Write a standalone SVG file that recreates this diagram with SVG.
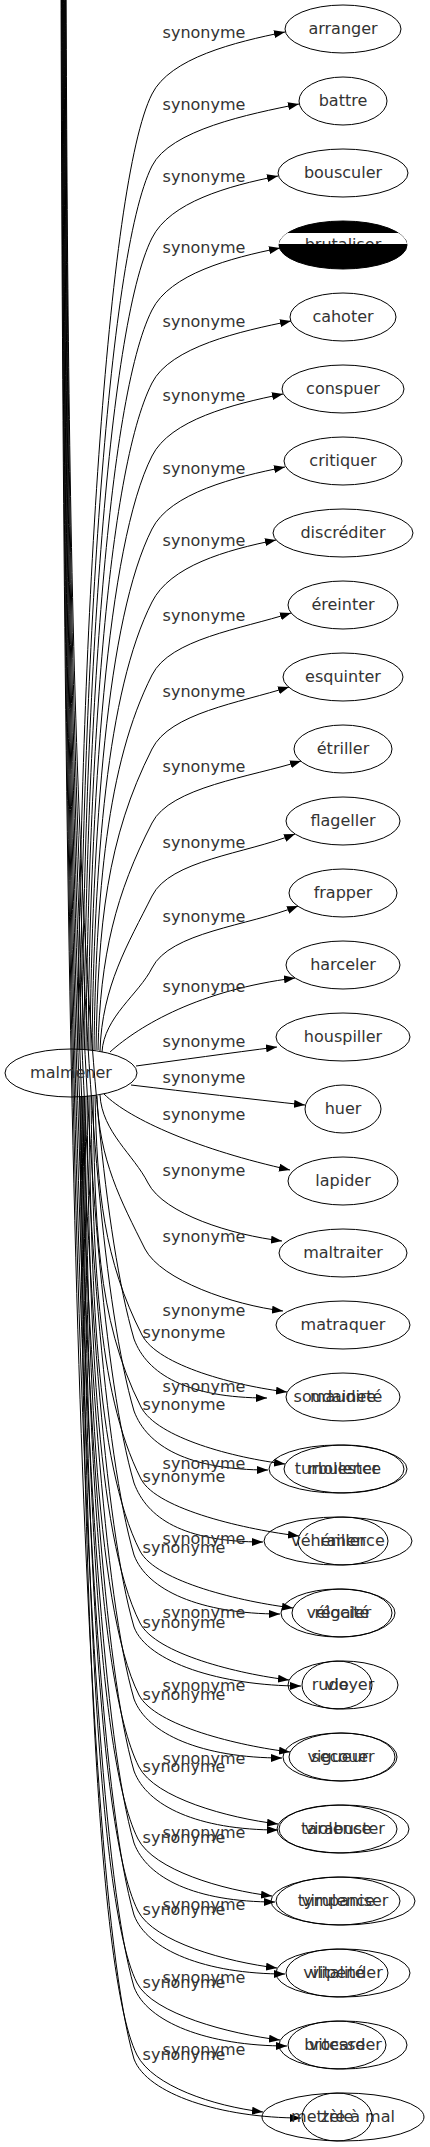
<svg xmlns="http://www.w3.org/2000/svg" width="430" height="2147" viewBox="0 0 430 2147">
<style>
.n{fill:none;stroke:#000;stroke-width:1}
.t{font-family:"DejaVu Sans",sans-serif;font-size:16px;fill:#333;text-anchor:middle}
.l{font-family:"DejaVu Sans",sans-serif;font-size:16px;fill:#333;text-anchor:middle}
.e path{fill:none;stroke:#000;stroke-width:1;marker-end:url(#a)}
</style>
<defs>
<marker id="a" viewBox="0 0 11 8" refX="11" refY="4" markerWidth="11" markerHeight="8" markerUnits="userSpaceOnUse" orient="auto"><path d="M0,0L11,4L0,8z" fill="#000"/></marker>
<clipPath id="cb"><ellipse cx="343" cy="245" rx="64" ry="24"/></clipPath>
<clipPath id="ct"><rect x="270" y="200" width="150" height="44"/></clipPath>
</defs>
<rect width="430" height="2147" fill="#fff"/>
<g id="connectors" class="e">
<path d="M78,1050 C80,648 107,183 152,94 C170,58 235,42 285,32"/>
<path d="M80,1050 C82,679 107,255 152,166 C170,130 249,114 299,104"/>
<path d="M82,1050 C84,709 107,327 152,238 C170,202 228,186 278,176"/>
<path d="M84,1050 C86,739 107,399 152,310 C170,274 230,258 280,248"/>
<path d="M86,1050 C88,770 107,472 152,383 C170,347 241,331 291,321"/>
<path d="M88,1050 C90,800 107,545 152,456 C170,420 233,404 283,394"/>
<path d="M90,1050 C92,831 107,618 152,529 C170,493 235,477 285,467"/>
<path d="M92,1050 C94,862 107,691 152,602 C170,566 226,550 276,540"/>
<path d="M94,1050 C96,892 107,764 152,675 C170,639 241,629 291,613"/>
<path d="M96,1050 C98,924 107,838 152,749 C170,713 239,703 289,687"/>
<path d="M98,1050 C100,955 116,893 152,823 C170,787 251,777 301,761"/>
<path d="M100,1051 C102,986 128,944 152,896 C170,860 245,854 295,834"/>
<path d="M102,1052 C104,1017 139,994 152,968 C170,932 248,926 298,906"/>
<path d="M110,1052 C140,1025 200,990 295,978"/>
<path d="M136,1066 C180,1060 230,1053 277,1047"/>
<path d="M131,1085 C190,1092 250,1099 305,1105"/>
<path d="M104,1094 C130,1120 200,1150 290,1170"/>
<path d="M100,1095 C102,1132 134,1155 148,1183 C164,1214 232,1235 282,1241"/>
<path d="M97,1096 C99,1160 121,1201 145,1249 C161,1280 233,1305 283,1311"/>
<path d="M95,1095 C97,1192 104,1260 142,1335 C158,1366 237,1386 287,1392"/>
<path d="M93,1095 C95,1220 96,1318 141,1407 C157,1438 235,1458 285,1464"/>
<path d="M91,1096 C93,1249 96,1390 141,1479 C157,1510 249,1530 299,1536"/>
<path d="M89,1096 C91,1278 95,1462 140,1551 C156,1582 243,1602 293,1608"/>
<path d="M87,1096 C89,1307 95,1534 140,1623 C156,1654 239,1674 289,1680"/>
<path d="M85,1096 C87,1336 94,1606 139,1695 C155,1726 240,1746 290,1752"/>
<path d="M84,1096 C86,1364 94,1678 139,1767 C155,1798 228,1818 278,1824"/>
<path d="M83,1096 C85,1393 93,1750 138,1839 C154,1870 222,1890 272,1896"/>
<path d="M82,1096 C84,1422 93,1822 138,1911 C154,1942 227,1962 277,1968"/>
<path d="M81,1096 C83,1451 92,1894 137,1983 C153,2014 230,2034 280,2040"/>
<path d="M80,1096 C82,1480 92,1966 137,2055 C153,2086 213,2106 263,2112"/>
<path d="M66,-30 C68,536 74,1132 134,1339 C147,1374 187,1398 267,1398"/>
<path d="M65.5,-30 C67.5,564 74,1204 134,1411 C147,1446 188,1470 268,1470"/>
<path d="M65,-30 C67,593 74,1276 134,1483 C147,1518 183,1542 263,1542"/>
<path d="M64.5,-30 C66.5,622 74,1348 134,1555 C147,1590 200,1614 280,1614"/>
<path d="M64,-30 C66,651 74,1420 134,1627 C147,1662 221,1686 301,1686"/>
<path d="M63.5,-30 C65.5,680 74,1492 134,1699 C147,1734 202,1758 282,1758"/>
<path d="M63,-30 C65,708 74,1564 134,1771 C147,1806 198,1830 278,1830"/>
<path d="M62.5,-30 C64.5,737 74,1636 134,1843 C147,1878 195,1902 275,1902"/>
<path d="M62,-30 C64,766 74,1708 134,1915 C147,1950 205,1974 285,1974"/>
<path d="M61.5,-30 C63.5,795 74,1780 134,1987 C147,2022 207,2046 287,2046"/>
<path d="M61,-30 C63,824 74,1852 134,2059 C147,2094 221,2118 301,2118"/>
</g>
<g id="edge-labels">
<text class="l" x="204" y="38">synonyme</text>
<text class="l" x="204" y="110">synonyme</text>
<text class="l" x="204" y="182">synonyme</text>
<text class="l" x="204" y="253">synonyme</text>
<text class="l" x="204" y="327">synonyme</text>
<text class="l" x="204" y="401">synonyme</text>
<text class="l" x="204" y="474">synonyme</text>
<text class="l" x="204" y="546">synonyme</text>
<text class="l" x="204" y="621">synonyme</text>
<text class="l" x="204" y="697">synonyme</text>
<text class="l" x="204" y="772">synonyme</text>
<text class="l" x="204" y="848">synonyme</text>
<text class="l" x="204" y="922">synonyme</text>
<text class="l" x="204" y="992">synonyme</text>
<text class="l" x="204" y="1047">synonyme</text>
<text class="l" x="204" y="1083">synonyme</text>
<text class="l" x="204" y="1120">synonyme</text>
<text class="l" x="204" y="1176">synonyme</text>
<text class="l" x="204" y="1242">synonyme</text>
<text class="l" x="204" y="1316">synonyme</text>
<text class="l" x="204" y="1392">synonyme</text>
<text class="l" x="204" y="1469">synonyme</text>
<text class="l" x="204" y="1544">synonyme</text>
<text class="l" x="204" y="1618">synonyme</text>
<text class="l" x="204" y="1691">synonyme</text>
<text class="l" x="204" y="1764">synonyme</text>
<text class="l" x="204" y="1838">synonyme</text>
<text class="l" x="204" y="1910">synonyme</text>
<text class="l" x="204" y="1983">synonyme</text>
<text class="l" x="204" y="2055">synonyme</text>
<text class="l" x="184" y="1338">synonyme</text>
<text class="l" x="184" y="1410">synonyme</text>
<text class="l" x="184" y="1482">synonyme</text>
<text class="l" x="184" y="1553">synonyme</text>
<text class="l" x="184" y="1628">synonyme</text>
<text class="l" x="184" y="1700">synonyme</text>
<text class="l" x="184" y="1772">synonyme</text>
<text class="l" x="184" y="1843">synonyme</text>
<text class="l" x="184" y="1915">synonyme</text>
<text class="l" x="184" y="1988">synonyme</text>
<text class="l" x="184" y="2060">synonyme</text>
</g>
<g id="malmener"><ellipse class="n" cx="71" cy="1073" rx="66" ry="24"/><text class="t" x="71" y="1078">malmener</text></g>
<g id="arranger"><ellipse class="n" cx="343" cy="29" rx="58" ry="24"/><text class="t" x="343" y="34">arranger</text></g>
<g id="battre"><ellipse class="n" cx="343" cy="101" rx="44" ry="24"/><text class="t" x="343" y="106">battre</text></g>
<g id="bousculer"><ellipse class="n" cx="343" cy="173" rx="65" ry="24"/><text class="t" x="343" y="178">bousculer</text></g>
<g id="brutaliser"><ellipse cx="343" cy="245" rx="64" ry="24" fill="#000" stroke="#000"/><rect x="279" y="233" width="128" height="11" fill="#fff" clip-path="url(#cb)"/><text class="t" x="343" y="250" clip-path="url(#ct)">brutaliser</text></g>
<g id="cahoter"><ellipse class="n" cx="343" cy="317" rx="53" ry="24"/><text class="t" x="343" y="322">cahoter</text></g>
<g id="conspuer"><ellipse class="n" cx="343" cy="389" rx="61" ry="24"/><text class="t" x="343" y="394">conspuer</text></g>
<g id="critiquer"><ellipse class="n" cx="343" cy="461" rx="59" ry="24"/><text class="t" x="343" y="466">critiquer</text></g>
<g id="discrediter"><ellipse class="n" cx="343" cy="533" rx="70" ry="24"/><text class="t" x="343" y="538">discréditer</text></g>
<g id="ereinter"><ellipse class="n" cx="343" cy="605" rx="55" ry="24"/><text class="t" x="343" y="610">éreinter</text></g>
<g id="esquinter"><ellipse class="n" cx="343" cy="677" rx="60" ry="24"/><text class="t" x="343" y="682">esquinter</text></g>
<g id="etriller"><ellipse class="n" cx="343" cy="749" rx="49" ry="24"/><text class="t" x="343" y="754">étriller</text></g>
<g id="flageller"><ellipse class="n" cx="343" cy="821" rx="57" ry="24"/><text class="t" x="343" y="826">flageller</text></g>
<g id="frapper"><ellipse class="n" cx="343" cy="893" rx="54" ry="24"/><text class="t" x="343" y="898">frapper</text></g>
<g id="harceler"><ellipse class="n" cx="343" cy="965" rx="57" ry="24"/><text class="t" x="343" y="970">harceler</text></g>
<g id="houspiller"><ellipse class="n" cx="343" cy="1037" rx="67" ry="24"/><text class="t" x="343" y="1042">houspiller</text></g>
<g id="huer"><ellipse class="n" cx="343" cy="1109" rx="38" ry="24"/><text class="t" x="343" y="1114">huer</text></g>
<g id="lapider"><ellipse class="n" cx="343" cy="1181" rx="55" ry="24"/><text class="t" x="343" y="1186">lapider</text></g>
<g id="maltraiter"><ellipse class="n" cx="343" cy="1253" rx="64" ry="24"/><text class="t" x="343" y="1258">maltraiter</text></g>
<g id="matraquer"><ellipse class="n" cx="343" cy="1325" rx="67" ry="24"/><text class="t" x="343" y="1330">matraquer</text></g>
<g id="maudire"><ellipse class="n" cx="343" cy="1397" rx="57" ry="24"/><text class="t" x="343" y="1402">maudire</text></g>
<g id="molester"><ellipse class="n" cx="344" cy="1469" rx="60" ry="24"/><text class="t" x="343" y="1474">molester</text></g>
<g id="railler"><ellipse class="n" cx="343" cy="1541" rx="45" ry="24"/><text class="t" x="343" y="1546">railler</text></g>
<g id="regaler"><ellipse class="n" cx="342" cy="1613" rx="50" ry="24"/><text class="t" x="343" y="1618">régaler</text></g>
<g id="rudoyer"><ellipse class="n" cx="343" cy="1685" rx="55" ry="24"/><text class="t" x="343" y="1690">rudoyer</text></g>
<g id="secouer"><ellipse class="n" cx="342" cy="1757" rx="53" ry="24"/><text class="t" x="343" y="1762">secouer</text></g>
<g id="tarabuster"><ellipse class="n" cx="343" cy="1829" rx="66" ry="24"/><text class="t" x="343" y="1834">tarabuster</text></g>
<g id="tympaniser"><ellipse class="n" cx="343" cy="1901" rx="72" ry="24"/><text class="t" x="343" y="1906">tympaniser</text></g>
<g id="vilipender"><ellipse class="n" cx="343" cy="1973" rx="67" ry="24"/><text class="t" x="343" y="1978">vilipender</text></g>
<g id="brocarder"><ellipse class="n" cx="343" cy="2045" rx="64" ry="24"/><text class="t" x="343" y="2050">brocarder</text></g>
<g id="mettre-a-mal"><ellipse class="n" cx="343" cy="2117" rx="81" ry="24"/><text class="t" x="343" y="2122">mettre à mal</text></g>
<g id="soudainete"><text class="t" x="338" y="1402">soudaineté</text></g>
<g id="turbulence"><ellipse class="n" cx="338" cy="1469" rx="69" ry="24"/><text class="t" x="338" y="1474">turbulence</text></g>
<g id="vehemence"><ellipse class="n" cx="338" cy="1541" rx="74" ry="24"/><text class="t" x="338" y="1546">véhémence</text></g>
<g id="velocite"><ellipse class="n" cx="338" cy="1613" rx="57" ry="24"/><text class="t" x="338" y="1618">vélocité</text></g>
<g id="vie"><ellipse class="n" cx="337" cy="1685" rx="35" ry="24"/><text class="t" x="337" y="1690">vie</text></g>
<g id="vigueur"><ellipse class="n" cx="340" cy="1757" rx="57" ry="24"/><text class="t" x="338" y="1762">vigueur</text></g>
<g id="violence"><ellipse class="n" cx="338" cy="1829" rx="59" ry="24"/><text class="t" x="338" y="1834">violence</text></g>
<g id="virulence"><ellipse class="n" cx="338" cy="1901" rx="62" ry="24"/><text class="t" x="338" y="1906">virulence</text></g>
<g id="vitalite"><ellipse class="n" cx="337" cy="1973" rx="51" ry="24"/><text class="t" x="337" y="1978">vitalité</text></g>
<g id="vitesse"><ellipse class="n" cx="337" cy="2045" rx="49" ry="24"/><text class="t" x="337" y="2050">vitesse</text></g>
<g id="zele"><ellipse class="n" cx="337" cy="2117" rx="35" ry="24"/><text class="t" x="337" y="2122">zèle</text></g>
</svg>
